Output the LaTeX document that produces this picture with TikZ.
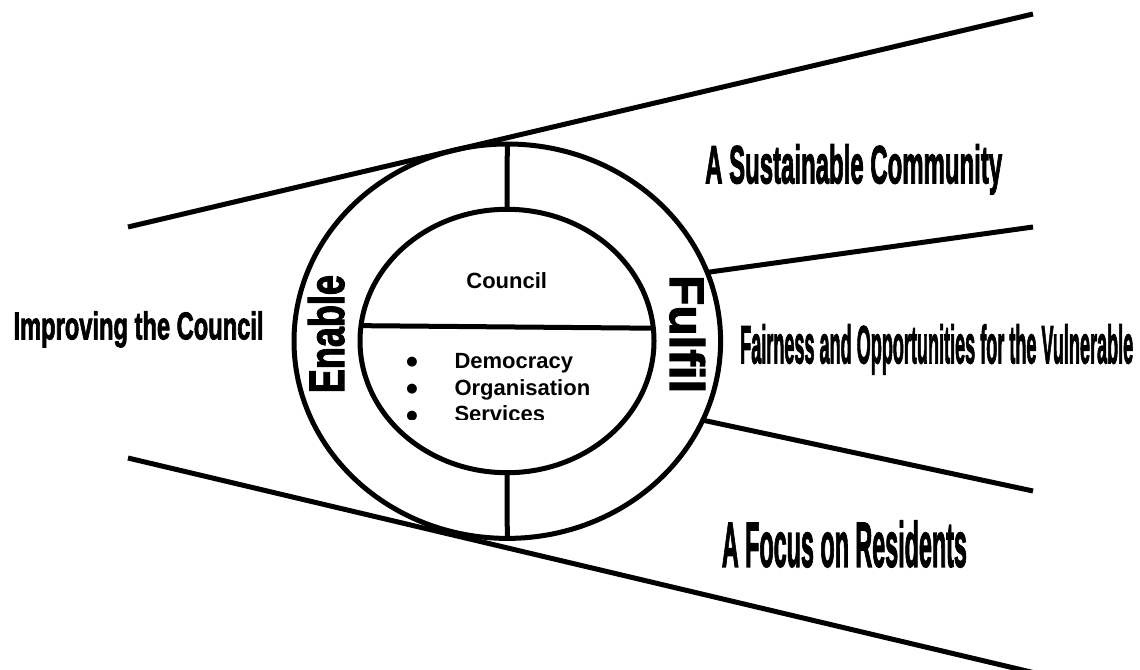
\documentclass[tikz,border=0pt]{standalone}
\usepackage{fontspec}
\setmainfont{Liberation Sans}
\newfontfamily\heavy[BoldFeatures={FakeBold=2.5}]{Liberation Sans}
\newfontfamily\dejavu{DejaVu Sans}
\usetikzlibrary{shapes.geometric}
\newcommand{\bulitem}[1]{\makebox[49.55bp][l]{\hspace{1.5bp}\raisebox{2.5bp}{\dejavu\fontsize{13bp}{14bp}\selectfont ●}}#1}
\begin{document}
\begin{tikzpicture}[x=1bp,y=-1bp,
  ln/.style={line width=5bp},
  ring/.style={ellipse, draw, line width=5bp, inner sep=0pt, outer sep=0pt},
  lab/.style={anchor=base west, inner sep=0pt, font=\heavy\bfseries},
  small/.style={font=\fontsize{22bp}{26bp}\selectfont\bfseries, inner sep=0pt}]
\useasboundingbox (0,0) rectangle (1140,670);
\clip (0,0) rectangle (1140,670);
\fill[white] (0,0) rectangle (1140,670);

% rings
\node[ring, minimum width=426.6bp, minimum height=394.4bp] (outer) at (507.3,341.2) {};
\node[ring, minimum width=294bp, minimum height=263.4bp] (inner) at (507,341) {};

% ring dividers
\draw[ln] (inner.north) -- (outer.north);
\draw[ln] (inner.south) -- (outer.south);
\draw[ln] (inner.174.65) -- (inner.5.35);

% long lines and right-side lines
\coordinate (ul1) at (128,227);  \coordinate (ul2) at (1033,14);
\coordinate (ll1) at (128,458);  \coordinate (ll2) at (1033,672.5);
\coordinate (ru) at (1033,227);  \coordinate (rl) at (1033,491);
\draw[ln] (ul1) -- (ul2);
\draw[ln] (ll1) -- (ll2);
\draw[ln] (outer.19.1) -- (ru);
\draw[ln] (outer.-22.6) -- (rl);

% outer labels
\node[lab] (improving) at (13.3,339.3) {\resizebox{250bp}{28bp}{Improving the Council}};
\node[lab] (sust) at (705,183.3) {\resizebox{297bp}{39bp}{A Sustainable Community}};
\node[lab] (fair) at (740,363.3) {\resizebox{393bp}{39bp}{Fairness and Opportunities for the Vulnerable}};
\node[lab] (focus) at (721.7,566.7) {\resizebox{245bp}{46bp}{A Focus on Residents}};
\node[lab, rotate=90] (enable) at (344,393.3) {\resizebox{118bp}{36bp}{Enable}};
\node[lab, rotate=-90] (fulfil) at (670,275) {\resizebox{118bp}{35bp}{Fulfil}};

% inner texts
\node[small, anchor=base] (council) at (506.7,288.3) {Council};
\begin{scope}
\clip (392,255) rectangle (623,419.5);
\node[small, anchor=base west] (dem) at (404.75,368.3) {\bulitem{Democracy}};
\node[small, anchor=base west] (org) at (404.75,395) {\bulitem{Organisation}};
\node[small, anchor=base west] (serv) at (404.75,421.7) {\bulitem{Services}};
\end{scope}
\end{tikzpicture}
\end{document}
